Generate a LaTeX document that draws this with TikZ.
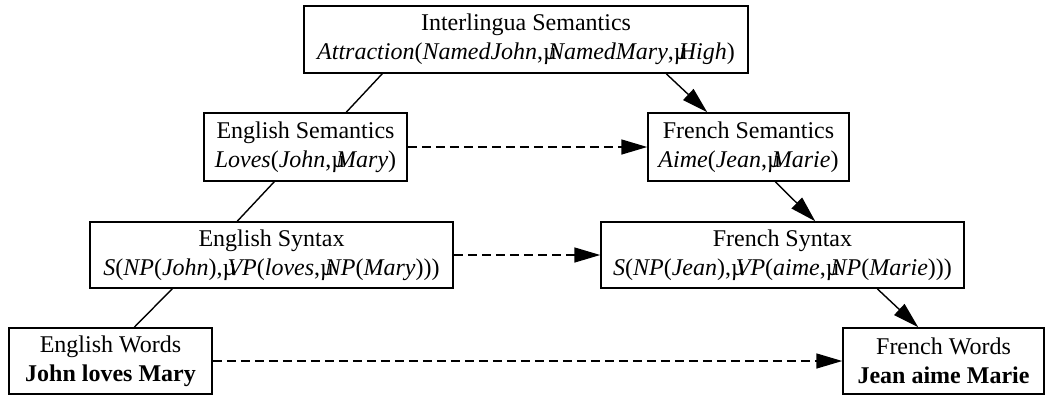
\documentclass[tikz,border=0pt]{standalone}
\usepackage{fontspec}
\setmainfont{Liberation Serif}
\usetikzlibrary{arrows.meta}
\newcommand\gapmu{\makebox[0.2em][l]{µ}}
\tikzset{
  box/.style={draw=black, line width=1.5pt, inner sep=0pt, align=center,
    font=\fontsize{24}{29}\selectfont},
  link/.style={line width=1.4pt},
  arr/.style={line width=1.4pt, -{Triangle[length=26pt,width=15pt]}},
  darr/.style={line width=1.6pt, dash pattern=on 9pt off 5pt, -{Triangle[length=26pt,width=15pt]}}
}
\begin{document}
\begin{tikzpicture}[x=1pt,y=-1pt]
\path[use as bounding box, clip] (0,0) rectangle (1046,394);
\node[box, minimum width=444pt, minimum height=67pt] (inter) at (526,39.5)
  {Interlingua Semantics\\ \textit{Attraction}(\textit{NamedJohn},\gapmu\textit{NamedMary},\gapmu\textit{High})};
\node[box, minimum width=203pt, minimum height=68pt] (esem) at (305.5,147)
  {English Semantics\\ \textit{Loves}(\textit{John},\gapmu\textit{Mary})};
\node[box, minimum width=201pt, minimum height=68pt] (fsem) at (748.5,147)
  {French Semantics\\ \textit{Aime}(\textit{Jean},\gapmu\textit{Marie})};
\node[box, minimum width=363pt, minimum height=66pt] (esyn) at (271.5,255)
  {English Syntax\\ \textit{S}(\textit{NP}(\textit{John}),\gapmu\textit{VP}(\textit{loves},\gapmu\textit{NP}(\textit{Mary})))};
\node[box, minimum width=363pt, minimum height=66pt] (fsyn) at (782.5,255)
  {French Syntax\\ \textit{S}(\textit{NP}(\textit{Jean}),\gapmu\textit{VP}(\textit{aime},\gapmu\textit{NP}(\textit{Marie})))};
\node[box, minimum width=203pt, minimum height=66pt] (ewords) at (110.5,361)
  {English Words\\ \textbf{John loves Mary}};
\node[box, minimum width=201pt, minimum height=66pt] (fwords) at (943.5,361)
  {French Words\\ \textbf{Jean aime Marie}};
\draw[link] ([xshift=79pt]inter.south west) -- ([xshift=143pt]esem.north west);
\draw[arr] ([xshift=363pt]inter.south west) -- ([xshift=60pt]fsem.north west);
\draw[link] ([xshift=71pt]esem.south west) -- ([xshift=148pt]esyn.north west);
\draw[arr] ([xshift=128pt]fsem.south west) -- ([xshift=215pt]fsyn.north west);
\draw[link] ([xshift=83pt]esyn.south west) -- ([xshift=126pt]ewords.north west);
\draw[arr] ([xshift=277pt]fsyn.south west) -- ([xshift=76pt]fwords.north west);
\draw[darr] (esem.east) -- (fsem.west);
\draw[darr] (esyn.east) -- (fsyn.west);
\draw[darr] (ewords.east) -- (fwords.west);
\end{tikzpicture}
\end{document}
